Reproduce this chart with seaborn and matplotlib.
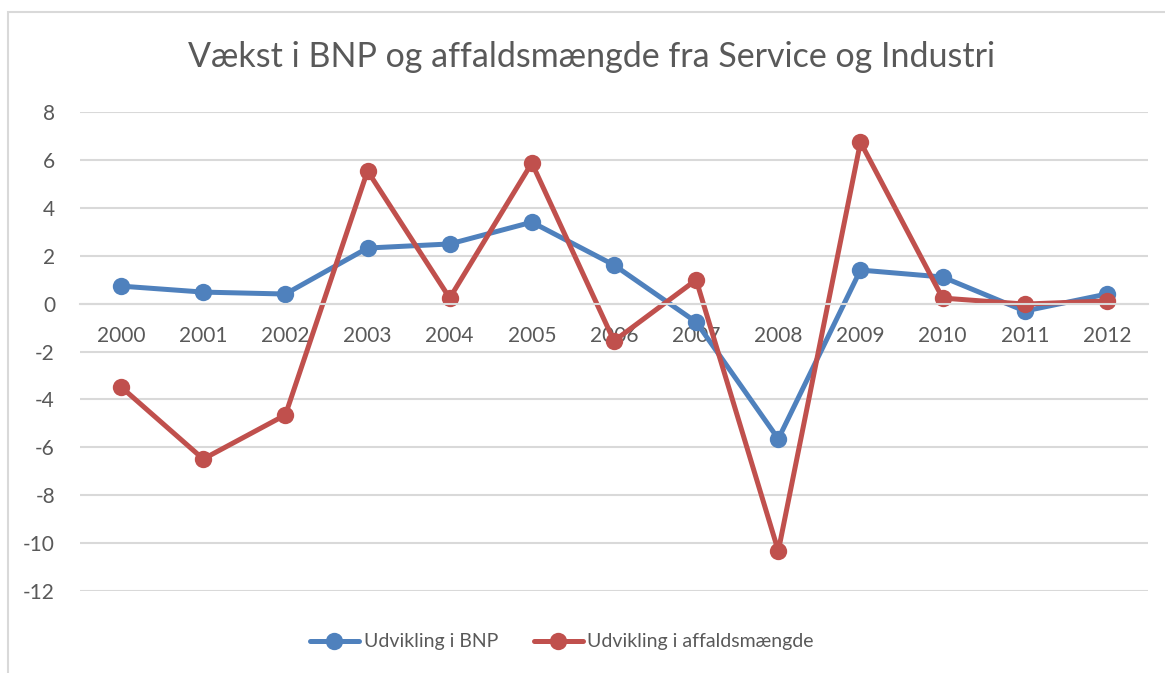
import pandas as pd
import matplotlib.pyplot as plt
import seaborn as sns
from matplotlib.patches import Rectangle
from matplotlib.lines import Line2D

# Data
years = ["2000", "2001", "2002", "2003", "2004", "2005", "2006",
         "2007", "2008", "2009", "2010", "2011", "2012"]
bnp = [0.73, 0.48, 0.40, 2.32, 2.49, 3.40, 1.61, -0.77, -5.65, 1.40, 1.11, -0.31, 0.40]
affald = [-3.48, -6.49, -4.65, 5.54, 0.23, 5.87, -1.56, 0.99, -10.33, 6.74, 0.23, -0.02, 0.11]
series_names = ["Udvikling i BNP", "Udvikling i affaldsmængde"]
colors = ["#4F81BD", "#C0504D"]
yticks = [8, 6, 4, 2, 0, -2, -4, -6, -8, -10, -12]

df = pd.concat([
    pd.DataFrame({"year": years, "value": bnp, "series": series_names[0]}),
    pd.DataFrame({"year": years, "value": affald, "series": series_names[1]}),
])

sns.set_style("white")
plt.rcParams["font.family"] = ["Lato", "DejaVu Sans"]
txt = "#595959"

fig = plt.figure(figsize=(11.65, 6.73), dpi=100)
ax = fig.add_axes([80 / 1165, 1 - 591 / 673, (1148 - 80) / 1165, (591 - 112) / 673])

# chart frame
fig.patches.append(Rectangle((8 / 1165, -0.05), 1.2, 1 - 12 / 673 + 0.05,
                             transform=fig.transFigure, fill=False,
                             edgecolor="#D9D9D9", linewidth=1.5))

sns.lineplot(data=df, x="year", y="value", hue="series", palette=colors,
             marker="o", markersize=12.5, markeredgewidth=0, linewidth=3.6,
             sort=False, ax=ax, legend=False)

ax.set_xlim(-0.5, 12.5)
ax.set_ylim(-12, 8)
ax.set_yticks(yticks)
ax.set_yticklabels([str(v) for v in yticks])
ax.yaxis.grid(True, color="#D9D9D9", linewidth=1.5)
ax.set_axisbelow(True)
for s in ["top", "right", "left"]:
    ax.spines[s].set_visible(False)
ax.spines["bottom"].set_position(("data", 0))
ax.spines["bottom"].set_color("#D9D9D9")
ax.spines["bottom"].set_linewidth(1.5)
ax.tick_params(axis="x", length=0, pad=16, labelsize=15, labelcolor=txt)
ax.tick_params(axis="y", length=0, pad=18, labelsize=15, labelcolor=txt)
ax.set_xlabel("")
ax.set_ylabel("")

fig.text(592 / 1165, 1 - 57 / 673, "Vækst i BNP og affaldsmængde fra Service og Industri",
         ha="center", va="center", fontsize=24.5, fontweight="normal", color=txt)

handles = [Line2D([], [], color=c, linewidth=3.6, marker="o", markersize=12.5,
                  markeredgewidth=0) for c in colors]
fig.legend(handles, series_names, loc="center", bbox_to_anchor=(562 / 1165, 1 - 642 / 673),
           ncol=2, frameon=False, fontsize=14, labelcolor=txt,
           handlelength=2.5, handletextpad=0.25, columnspacing=1.85)

fig.savefig("out.png", dpi=100)
